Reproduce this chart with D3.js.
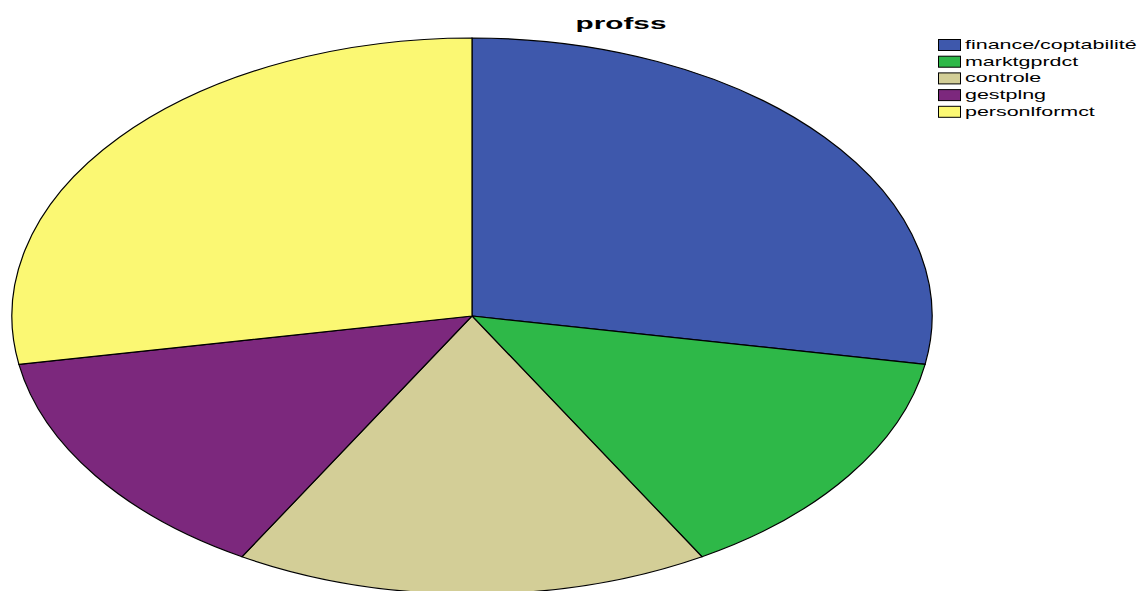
<!DOCTYPE html>
<html>
<head>
<meta charset="utf-8">
<script src="https://cdn.jsdelivr.net/npm/d3@7"></script>
<style>
  html, body { margin: 0; padding: 0; background: #fff; }
  svg { display: block; }
</style>
</head>
<body>
<svg id="chart" width="1140" height="591"></svg>
<script>
const title = "profss";
const categories = ["finance/coptabilité", "marktgprdct", "controle", "gestplng", "personlformct"];
const counts = [10, 5, 6, 5, 10];
const colors = ["#3E58AC", "#2EB848", "#D3CE97", "#7C287D", "#FBF873"];

const svg = d3.select("#chart");
const cx = 472, cy = 316, rx = 460, ry = 278;

const data = categories.map((c, i) => ({ name: c, value: counts[i], color: colors[i] }));
const pie = d3.pie().value(d => d.value).sort(null).startAngle(0).endAngle(2 * Math.PI);
const arc = d3.arc().innerRadius(0).outerRadius(1);

const g = svg.append("g").attr("transform", `translate(${cx},${cy}) scale(${rx},${ry})`);
g.selectAll("path")
  .data(pie(data))
  .join("path")
  .attr("d", arc)
  .attr("fill", d => d.data.color)
  .attr("stroke", "#000")
  .attr("stroke-width", 1.2)
  .attr("vector-effect", "non-scaling-stroke");

// title (horizontally stretched like the source image)
svg.append("g")
  .attr("transform", "translate(621,29) scale(1.75,1)")
  .append("text")
  .attr("text-anchor", "middle")
  .attr("font-family", "Liberation Sans, Arial, sans-serif")
  .attr("font-weight", "bold")
  .attr("font-size", 17)
  .attr("fill", "#000")
  .text(title);

// legend
const legend = svg.append("g").attr("transform", "translate(938,39)");
const rowH = 16.7;
const items = legend.selectAll("g.item")
  .data(data)
  .join("g")
  .attr("class", "item")
  .attr("transform", (d, i) => `translate(0,${i * rowH})`);
items.append("rect")
  .attr("x", 0.5).attr("y", 0.5)
  .attr("width", 22).attr("height", 11)
  .attr("fill", d => d.color)
  .attr("stroke", "#000")
  .attr("stroke-width", 1);
items.append("g")
  .attr("transform", "translate(27,10) scale(1.65,1)")
  .append("text")
  .attr("font-family", "Liberation Sans, Arial, sans-serif")
  .attr("font-size", 13)
  .attr("fill", "#000")
  .text(d => d.name);
</script>
</body>
</html>
